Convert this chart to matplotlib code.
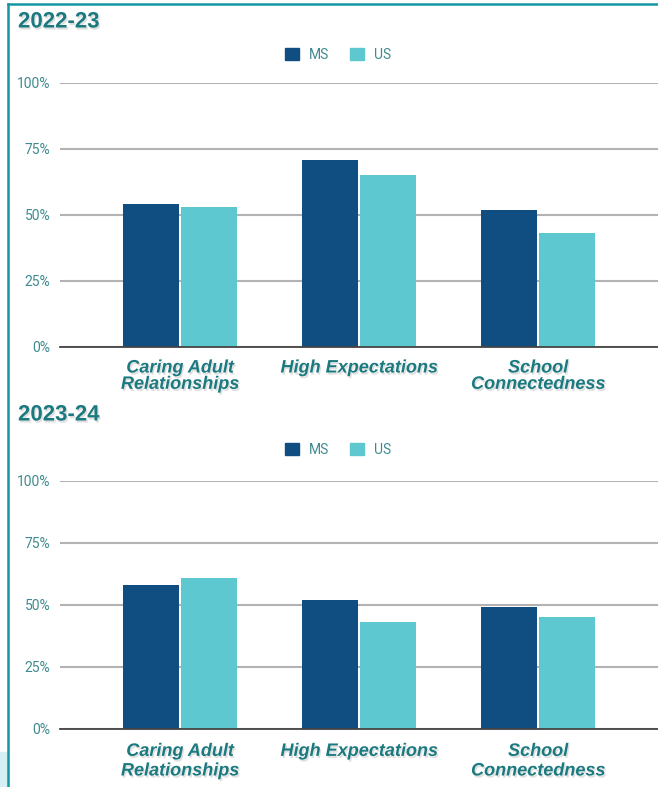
import numpy as np
import matplotlib
matplotlib.use('Agg')
import matplotlib.pyplot as plt
import matplotlib.patches as mpatches
import matplotlib.patheffects as pe
from matplotlib.lines import Line2D

# ── data ────────────────────────────────
categories = ['Caring Adult\nRelationships', 'High Expectations', 'School\nConnectedness']
years = ['2022-23', '2023-24']
ms_vals = [[54, 71, 52], [58, 52, 49]]
us_vals = [[53, 65, 43], [61, 43, 45]]
yticks = [0, 25, 50, 75, 100]

MS_COLOR = '#104e82'
US_COLOR = '#5ec8d1'
TEAL = '#1b7a80'
TICK_COLOR = '#3f8a90'
FRAME = '#1597a3'

W, H = 658, 787
fig = plt.figure(figsize=(W / 100, H / 100), dpi=100)

shadow = [pe.withSimplePatchShadow(offset=(1, -1.5), shadow_rgbFace='black', alpha=0.12)]

# axes placement in pixels
panels = [
    dict(top=83, bottom=347, title_y=22, legend_y=55, pad=9, spacing=0.95),
    dict(top=481, bottom=729, title_y=415, legend_y=450, pad=10, spacing=1.2),
]

x = np.arange(len(categories))
bw = 0.31
off = 0.163

for i, p in enumerate(panels):
    ax = fig.add_axes([60 / W, 1 - p['bottom'] / H, (W - 60) / W,
                       (p['bottom'] - p['top']) / H])
    ax.bar(x - off, ms_vals[i], width=bw, color=MS_COLOR, zorder=3)
    ax.bar(x + off, us_vals[i], width=bw, color=US_COLOR, zorder=3)
    ax.set_ylim(0, 100)
    ax.set_xlim(-0.670, 2.670)
    ax.set_yticks(yticks)
    ax.set_yticklabels([f'{v}%' for v in yticks], color=TICK_COLOR,
                       fontsize=10, family='Roboto')
    ax.yaxis.grid(True, color='#b3b3b3', linewidth=1.5, zorder=0)
    ax.set_axisbelow(True)
    ax.tick_params(axis='y', length=0, pad=7)
    ax.tick_params(axis='x', length=0, pad=p['pad'])
    ax.set_xticks(x)
    ax.set_xticklabels(categories, color=TEAL, fontsize=13, fontweight='bold',
                       fontstyle='italic', family='Liberation Sans',
                       linespacing=p['spacing'])
    for t in ax.get_xticklabels():
        t.set_path_effects(shadow)
    for s in ['top', 'right', 'left']:
        ax.spines[s].set_visible(False)
    ax.spines['bottom'].set_color('#444444')
    ax.spines['bottom'].set_linewidth(1.3)
    ax.spines['bottom'].set_zorder(4)

    fig.text(18 / W, 1 - p['title_y'] / H, years[i], color=TEAL, fontsize=16,
             fontweight='bold', family='Liberation Sans', va='center',
             path_effects=shadow)

    handles = [mpatches.Patch(color=MS_COLOR, label='MS'),
               mpatches.Patch(color=US_COLOR, label='US')]
    leg = fig.legend(handles=handles, loc='center', ncol=2, frameon=False,
                     bbox_to_anchor=(338 / W, 1 - p['legend_y'] / H),
                     handlelength=1.0, handleheight=1.0, handletextpad=0.7,
                     columnspacing=1.5, prop={'family': 'Roboto', 'size': 10})
    for t in leg.get_texts():
        t.set_color(TICK_COLOR)

# teal frame on top and left
fig.add_artist(Line2D([7.5 / W, 1], [1 - 3.5 / H, 1 - 3.5 / H], color=FRAME,
                      linewidth=1.8, transform=fig.transFigure))
fig.add_artist(Line2D([7.5 / W, 7.5 / W], [0, 1 - 3.5 / H], color=FRAME,
                      linewidth=1.8, transform=fig.transFigure))
# faint cyan patch at the bottom-left corner
fig.add_artist(mpatches.Rectangle((0, 0), 6.5 / W, 35 / H, color='#d6eff2',
                                  transform=fig.transFigure, zorder=0))

fig.savefig('out.png', dpi=100)
